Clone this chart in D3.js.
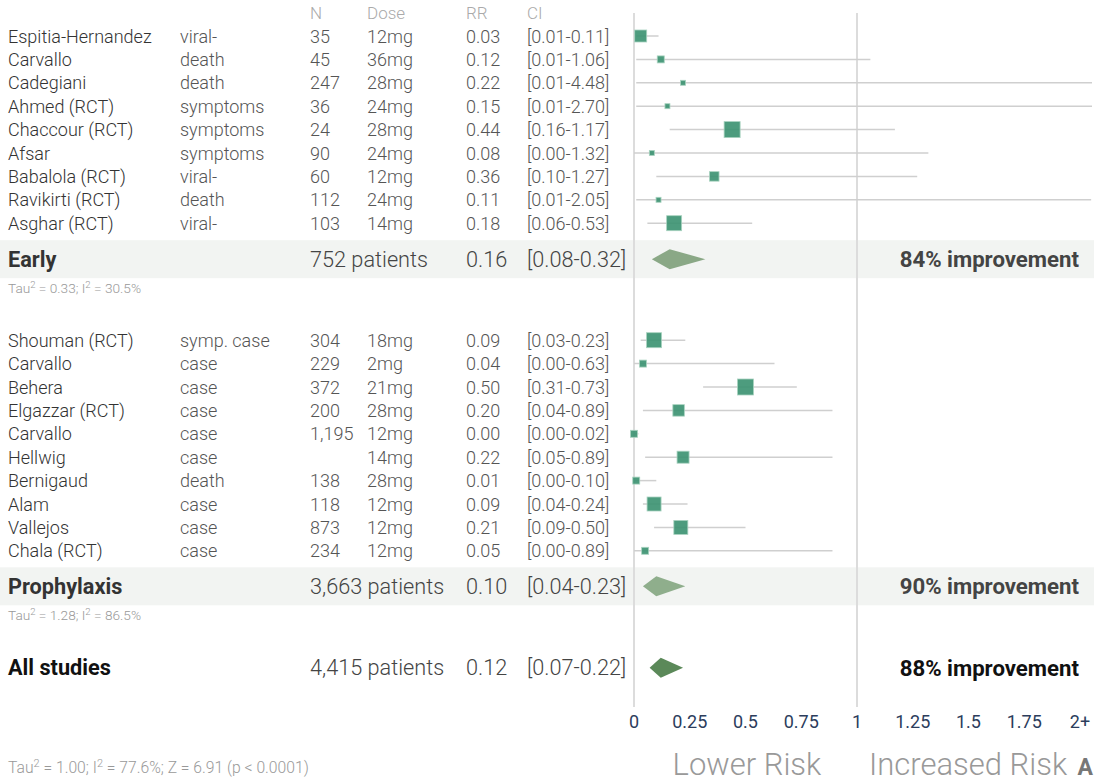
<!DOCTYPE html>
<html>
<head>
<meta charset="utf-8">
<script src="https://cdn.jsdelivr.net/npm/d3@7"></script>
<style>
  body { margin: 0; background: #fff; }
  text { font-family: Roboto, "Noto Sans", sans-serif; }
</style>
</head>
<body>
<div id="chart"></div>
<script>
const WIDTH = 1094;
const HEIGHT = 782;

// early treatment studies
const earlyNames = ["Espitia-Hernandez", "Carvallo", "Cadegiani", "Ahmed (RCT)", "Chaccour (RCT)", "Afsar", "Babalola (RCT)", "Ravikirti (RCT)", "Asghar (RCT)"];
const earlyOutcomes = ["viral-", "death", "death", "symptoms", "symptoms", "symptoms", "viral-", "death", "viral-"];
const earlyN = ["35", "45", "247", "36", "24", "90", "60", "112", "103"];
const earlyDose = ["12mg", "36mg", "28mg", "24mg", "28mg", "24mg", "12mg", "24mg", "14mg"];
const earlyRR = [0.03, 0.12, 0.22, 0.15, 0.44, 0.08, 0.36, 0.11, 0.18];
const earlyLo = [0.01, 0.01, 0.01, 0.01, 0.16, 0.00, 0.10, 0.01, 0.06];
const earlyHi = [0.11, 1.06, 4.48, 2.70, 1.17, 1.32, 1.27, 2.05, 0.53];
const earlyWeight = [12, 7, 5, 5, 16, 5, 9.5, 5, 15];

// prophylaxis studies
const prophNames = ["Shouman (RCT)", "Carvallo", "Behera", "Elgazzar (RCT)", "Carvallo", "Hellwig", "Bernigaud", "Alam", "Vallejos", "Chala (RCT)"];
const prophOutcomes = ["symp. case", "case", "case", "case", "case", "case", "death", "case", "case", "case"];
const prophN = ["304", "229", "372", "200", "1,195", "", "138", "118", "873", "234"];
const prophDose = ["18mg", "2mg", "21mg", "28mg", "12mg", "14mg", "28mg", "12mg", "12mg", "12mg"];
const prophRR = [0.09, 0.04, 0.50, 0.20, 0.00, 0.22, 0.01, 0.09, 0.21, 0.05];
const prophLo = [0.03, 0.00, 0.31, 0.04, 0.00, 0.05, 0.00, 0.04, 0.09, 0.00];
const prophHi = [0.23, 0.63, 0.73, 0.89, 0.02, 0.89, 0.10, 0.24, 0.50, 0.89];
const prophWeight = [15, 7, 16, 11.5, 7, 12, 7, 14, 14, 7];

// pooled results
const summaryLabels = ["Early", "Prophylaxis", "All studies"];
const summaryPatients = ["752 patients", "3,663 patients", "4,415 patients"];
const summaryRR = [0.16, 0.10, 0.12];
const summaryLo = [0.08, 0.04, 0.07];
const summaryHi = [0.32, 0.23, 0.22];
const summaryImprovement = ["84% improvement", "90% improvement", "88% improvement"];
const summaryTau = [["0.33", "30.5%"], ["1.28", "86.5%"]];
const overallStats = { tau: "1.00", i2: "77.6%", z: "6.91", p: "p < 0.0001" };

const headers = ["N", "Dose", "RR", "CI"];
const tickValues = [0, 0.25, 0.5, 0.75, 1, 1.25, 1.5, 1.75, 2];
const tickLabels = ["0", "0.25", "0.5", "0.75", "1", "1.25", "1.5", "1.75", "2+"];

const COL = { name: 8, outcome: 180, n: 310, dose: 367, rr: 466, ci: 527 };
const ROW_H = 23.4;
const ROW_FONT = 18;
const SUM_FONT = 21.7;

const fmt = d3.format(".2f");

const x = d3.scaleLinear().domain([0, 2]).range([634, 1080]);
const markerSize = d3.scaleLinear().domain([0, 16]).range([0, 16]);

const makeRows = (names, outcomes, ns, doses, rr, lo, hi, w) =>
  names.map((name, i) => ({ name, outcome: outcomes[i], n: ns[i], dose: doses[i], rr: rr[i], lo: lo[i], hi: hi[i], w: w[i] }));

const earlyRows = makeRows(earlyNames, earlyOutcomes, earlyN, earlyDose, earlyRR, earlyLo, earlyHi, earlyWeight);
const prophRows = makeRows(prophNames, prophOutcomes, prophN, prophDose, prophRR, prophLo, prophHi, prophWeight);

const svg = d3.select("#chart").append("svg")
  .attr("width", WIDTH)
  .attr("height", HEIGHT);

// section positions
const earlyTop = 36;
const earlySummaryY = earlyTop + (earlyRows.length - 1) * ROW_H + 36;
const prophTop = earlySummaryY + 81;
const prophSummaryY = prophTop + (prophRows.length - 1) * ROW_H + 35.5;
const allY = prophSummaryY + 81.5;
const summaryY = [earlySummaryY, prophSummaryY, allY];

// summary bands (drawn first, under everything)
[earlySummaryY, prophSummaryY].forEach((cy) => {
  svg.append("rect")
    .attr("x", 0).attr("y", cy - 19)
    .attr("width", WIDTH).attr("height", 38)
    .attr("fill", "#f2f4f2");
});

// reference lines at 0 and 1
[0, 1].forEach((v) => {
  svg.append("line")
    .attr("x1", x(v)).attr("x2", x(v))
    .attr("y1", 13).attr("y2", 707)
    .attr("stroke", "#dcdcdc")
    .attr("stroke-width", 2);
});

// header
const headerX = [COL.n, COL.dose, COL.rr, COL.ci];
svg.append("g").selectAll("text")
  .data(headers)
  .join("text")
  .attr("x", (d, i) => headerX[i])
  .attr("y", earlyTop - ROW_H)
  .attr("dominant-baseline", "central")
  .attr("font-size", 17)
  .attr("font-weight", 300)
  .attr("fill", "#aaa")
  .text((d) => d);

const drawStudies = (rows, top) => {
  const g = svg.append("g");
  const y = (i) => top + i * ROW_H;
  const cols = [
    ["name", COL.name, (d) => d.name],
    ["outcome", COL.outcome, (d) => d.outcome],
    ["n", COL.n, (d) => d.n],
    ["dose", COL.dose, (d) => d.dose],
    ["rr", COL.rr, (d) => fmt(d.rr)],
    ["ci", COL.ci, (d) => `[${fmt(d.lo)}-${fmt(d.hi)}]`],
  ];
  cols.forEach(([key, cx, accessor]) => {
    g.append("g").attr("class", key).selectAll("text")
      .data(rows)
      .join("text")
      .attr("x", cx)
      .attr("y", (d, i) => y(i))
      .attr("dominant-baseline", "central")
      .attr("font-size", ROW_FONT)
      .attr("font-weight", 300)
      .attr("fill", key == "name" ? "#333" : "#555")
      .text(accessor);
  });
  // confidence intervals
  g.append("g").selectAll("line")
    .data(rows)
    .join("line")
    .attr("x1", (d) => x(d.lo))
    .attr("x2", (d) => Math.min(x(d.hi), WIDTH - 2))
    .attr("y1", (d, i) => y(i))
    .attr("y2", (d, i) => y(i))
    .attr("stroke", "#cfcfcf")
    .attr("stroke-width", 1.5);
  // point estimates
  g.append("g").selectAll("rect")
    .data(rows)
    .join("rect")
    .attr("x", (d) => x(d.rr) - markerSize(d.w) / 2)
    .attr("y", (d, i) => y(i) - markerSize(d.w) / 2)
    .attr("width", (d) => markerSize(d.w))
    .attr("height", (d) => markerSize(d.w))
    .attr("fill", "#3a9170")
    .attr("fill-opacity", 0.9)
    .attr("stroke", "#a9d3c0")
    .attr("stroke-width", 0.8);
};

drawStudies(earlyRows, earlyTop);
drawStudies(prophRows, prophTop);

// summary rows
const diamondFill = ["#8aa886", "#8fae8c", "#5b8959"];
summaryLabels.forEach((label, i) => {
  const cy = summaryY[i];
  const isAll = i == 2;
  const strong = isAll ? "#111" : "#333";
  svg.append("text")
    .attr("x", COL.name).attr("y", cy)
    .attr("dominant-baseline", "central")
    .attr("font-size", SUM_FONT).attr("font-weight", 700)
    .attr("fill", strong)
    .text(label);
  svg.append("text")
    .attr("x", COL.n).attr("y", cy)
    .attr("dominant-baseline", "central")
    .attr("font-size", SUM_FONT).attr("font-weight", 300)
    .attr("fill", "#444")
    .text(summaryPatients[i]);
  svg.append("text")
    .attr("x", COL.rr).attr("y", cy)
    .attr("dominant-baseline", "central")
    .attr("font-size", SUM_FONT).attr("font-weight", 300)
    .attr("fill", "#444")
    .text(fmt(summaryRR[i]));
  svg.append("text")
    .attr("x", COL.ci).attr("y", cy)
    .attr("dominant-baseline", "central")
    .attr("font-size", SUM_FONT).attr("font-weight", 300)
    .attr("fill", "#444")
    .text(`[${fmt(summaryLo[i])}-${fmt(summaryHi[i])}]`);
  svg.append("path")
    .attr("d", `M${x(summaryLo[i])},${cy} L${x(summaryRR[i])},${cy - 10} L${x(summaryHi[i])},${cy} L${x(summaryRR[i])},${cy + 10} Z`)
    .attr("fill", diamondFill[i]);
  svg.append("text")
    .attr("x", 1079).attr("y", cy)
    .attr("text-anchor", "end")
    .attr("dominant-baseline", "central")
    .attr("font-size", SUM_FONT + 0.5).attr("font-weight", 700)
    .attr("fill", isAll ? "#111" : "#444")
    .text(summaryImprovement[i]);
});

// heterogeneity notes
const tauText = (sel, tau, i2, size) => {
  sel.append("tspan").text("Tau");
  sel.append("tspan").attr("font-size", size * 0.7).attr("dy", -size * 0.4).text("2");
  sel.append("tspan").attr("dy", size * 0.4).text(` = ${tau}; I`);
  sel.append("tspan").attr("font-size", size * 0.7).attr("dy", -size * 0.4).text("2");
  sel.append("tspan").attr("dy", size * 0.4).text(` = ${i2}`);
};

summaryTau.forEach(([tau, i2], i) => {
  const t = svg.append("text")
    .attr("x", COL.name).attr("y", summaryY[i] + 34)
    .attr("font-size", 13.5).attr("font-weight", 300)
    .attr("fill", "#999")
    .attr("textLength", 133)
    .attr("lengthAdjust", "spacingAndGlyphs");
  tauText(t, tau, i2, 13.5);
});

const overall = svg.append("text")
  .attr("x", COL.name).attr("y", 773)
  .attr("font-size", 15.7).attr("font-weight", 300)
  .attr("fill", "#999");
tauText(overall, overallStats.tau, overallStats.i2, 15.7);
overall.append("tspan").text(`; Z = ${overallStats.z} (${overallStats.p})`);

// axis labels
svg.append("g").selectAll("text")
  .data(tickValues)
  .join("text")
  .attr("x", (d) => x(d))
  .attr("y", 721)
  .attr("text-anchor", "middle")
  .attr("dominant-baseline", "central")
  .attr("font-family", "DejaVu Sans, sans-serif")
  .attr("font-size", 18)
  .attr("fill", "#2c3d5c")
  .text((d, i) => tickLabels[i]);

// risk direction labels
svg.append("text")
  .attr("x", x(0.75) + 20).attr("y", 775)
  .attr("text-anchor", "end")
  .attr("font-size", 31).attr("font-weight", 300)
  .attr("fill", "#999")
  .text("Lower Risk");
svg.append("text")
  .attr("x", x(1) + 12).attr("y", 775)
  .attr("font-size", 31).attr("font-weight", 300)
  .attr("fill", "#999")
  .text("Increased Risk");
svg.append("text")
  .attr("x", WIDTH - 1).attr("y", 775)
  .attr("text-anchor", "end")
  .attr("font-size", 23).attr("font-weight", 700)
  .attr("fill", "#777")
  .text("A");
</script>
</body>
</html>
